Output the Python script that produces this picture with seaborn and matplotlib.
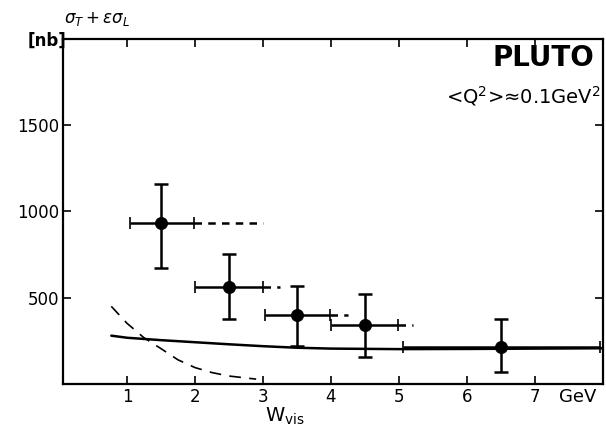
import numpy as np
import pandas as pd
import matplotlib
matplotlib.use("Agg")
import matplotlib.pyplot as plt
import seaborn as sns

# --- data ---
w_center = [1.5, 2.5, 3.5, 4.5, 6.5]
sigma = [935, 560, 398, 340, 212]
y_hi = [1160, 755, 570, 520, 375]
y_lo = [675, 375, 222, 155, 67]
w_lo = [1.05, 2.0, 3.03, 4.0, 5.06]
w_hi = [1.98, 3.0, 3.99, 4.99, 7.96]
w_ext = [3.0, 3.25, 4.25, 5.2, None]

curve_x = [0.77, 1.0, 1.5, 2.0, 2.5, 3.0, 3.5, 4.0, 5.0, 6.0, 7.0, 8.0]
curve_y = [280, 268, 254, 242, 230, 219, 210, 205, 202, 203, 205, 207]

dash_x = [0.77, 1.0, 1.25, 1.5, 1.75, 2.0, 2.25, 2.5, 2.9]
dash_y = [450, 352, 268, 205, 140, 95, 66, 46, 28]

xticks = [1, 2, 3, 4, 5, 6, 7]
yticks = [500, 1000, 1500]

sns.set_style("ticks")
plt.rcParams['font.family'] = ['DejaVu Sans']
plt.rcParams.update({"text.color": "black", "xtick.color": "black",
                     "ytick.color": "black", "axes.labelcolor": "black"})

fig = plt.figure(figsize=(6.06, 4.29), dpi=100)
ax = fig.add_axes([0.104, 0.105, 0.891, 0.804])

lw = 1.8
sns.lineplot(x=curve_x, y=curve_y, ax=ax, color="black", lw=lw)
sns.lineplot(x=dash_x, y=dash_y, ax=ax, color="black", lw=1.2, dashes=False,
             linestyle=(0, (7, 5)))

for xc, yc, yh, yl, xl, xh, xe in zip(w_center, sigma, y_hi, y_lo, w_lo, w_hi, w_ext):
    ax.errorbar([xc], [yc], yerr=[[yc - yl], [yh - yc]], fmt="none",
                ecolor="black", elinewidth=lw, capsize=5, capthick=lw)
    ax.errorbar([xc], [yc], xerr=[[xc - xl], [xh - xc]], fmt="none",
                ecolor="black", elinewidth=lw, capsize=4, capthick=1.2)
    if xe is not None:
        ax.plot([xh, xe], [yc, yc], color="black", lw=lw, linestyle=(0, (3, 2.5)))

sns.scatterplot(x=w_center, y=sigma, ax=ax, color="black", s=75, zorder=5,
                edgecolor="black")

ax.set_xlim(0.06, 8.0)
ax.set_ylim(0, 2000)
ax.set_xticks(xticks)
ax.set_xticklabels([str(t) for t in xticks])
ax.set_yticks(yticks)
ax.set_yticklabels([str(t) for t in yticks])
ax.tick_params(direction="in", length=6, width=1.2, labelsize=12,
               top=True, right=True, pad=3, colors="black")
for s in ax.spines.values():
    s.set_visible(True)
    s.set_linewidth(1.6)
    s.set_color("black")

ax.text(7.35, -25, "GeV", fontsize=13, ha="left", va="top")
fig.text(0.47, 0.005, r"W$_{\rm vis}$", fontsize=14, ha="center", va="bottom")
fig.text(0.105, 0.955, r"$\sigma_T + \varepsilon\sigma_L$", fontsize=12,
         ha="left", va="center")
fig.text(0.045, 0.905, "[nb]", fontsize=12, ha="left", va="center",
         fontweight="bold")

ax.text(0.89, 0.985, "PLUTO", transform=ax.transAxes, fontsize=20,
        fontweight="bold", ha="center", va="top")
ax.text(0.995, 0.87, r"<Q$^2$>≈0.1GeV$^2$", transform=ax.transAxes,
        fontsize=14, ha="right", va="top")

fig.savefig("out.png", dpi=100)
